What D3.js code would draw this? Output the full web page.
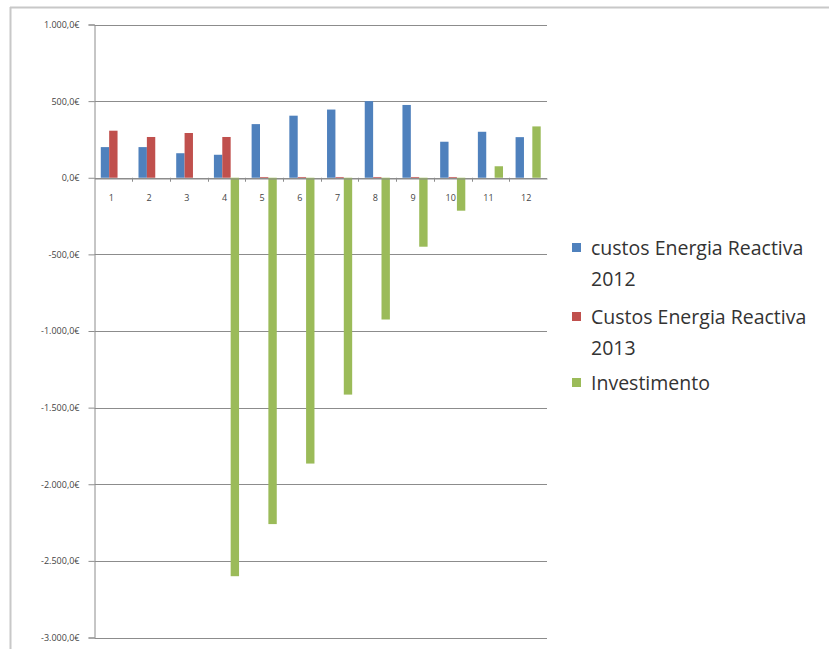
<!DOCTYPE html>
<meta charset="utf-8">
<style>
    body { margin: 0; background: #fff; }
    .tick text { font-family: "Open Sans", sans-serif; font-size: 9px; fill: #444; }
    .legend text { font-family: "Open Sans", sans-serif; font-size: 19.5px; fill: #333; }
</style>
<script src="https://d3js.org/d3.v7.min.js"></script>
<body>
<script>

    // data
    var months = ["1", "2", "3", "4", "5", "6", "7", "8", "9", "10", "11", "12"]
    var custos2012 = [200, 200, 160, 150, 350, 405, 445, 500, 475, 235, 300, 265]
    var custos2013 = [307, 266, 292, 266, 5, 5, 5, 5, 5, 5, 0, 0]
    var investimento = [0, 0, 0, -2600, -2260, -1865, -1415, -925, -450, -215, 75, 335]
    var seriesNames = ["custos Energia Reactiva 2012", "Custos Energia Reactiva 2013", "Investimento"]
    var colors = ["#4f81bd", "#c0504d", "#9bbb59"]
    var yTicks = [1000, 500, 0, -500, -1000, -1500, -2000, -2500, -3000]

    var width = 829
    height = 649

    var svg = d3.select("body")
        .append("svg")
        .attr("width", width)
        .attr("height", height)

    // chart frame (only top and left visible)
    svg.append("line")
        .attr("x1", 10).attr("x2", width).attr("y1", 7.5).attr("y2", 7.5)
        .attr("stroke", "#c8c8c8").attr("stroke-width", 2)
    svg.append("line")
        .attr("x1", 10.5).attr("x2", 10.5).attr("y1", 7).attr("y2", height)
        .attr("stroke", "#c8c8c8").attr("stroke-width", 2)

    var x0 = d3.scaleBand()
        .domain(months)
        .range([94.5, 547])
        .paddingInner(0)

    var x1 = d3.scaleBand()
        .domain([0, 1, 2])
        .range([0, x0.bandwidth()])
        .paddingInner(0)
        .paddingOuter(0.75)

    var y = d3.scaleLinear()
        .domain([-3000, 1000])
        .range([637.5, 24.5])

    var fmt = function (v) {
        var s = d3.format(",.1f")(v).replace(/,/g, "#").replace(".", ",").replace(/#/g, ".")
        return s.replace("−", "-") + "€"
    }

    // gridlines
    svg.append("g")
        .selectAll("line")
        .data(yTicks)
        .join("line")
        .attr("x1", 94.5)
        .attr("x2", 547)
        .attr("y1", function (d) { return Math.round(y(d)) + 0.5 })
        .attr("y2", function (d) { return Math.round(y(d)) + 0.5 })
        .attr("stroke", "#8c8c8c")
        .attr("stroke-width", 1)

    // y axis
    var yAxis = svg.append("g")
        .attr("transform", "translate(94.5,0)")
        .call(d3.axisLeft(y).tickValues(yTicks).tickFormat(fmt).tickSize(6).tickPadding(9))
    yAxis.select(".domain").attr("stroke", "#8c8c8c")
    yAxis.selectAll(".tick line").attr("stroke", "#8c8c8c")

    // bars
    var series = [custos2012, custos2013, investimento]
    series.forEach(function (vals, si) {
        svg.append("g")
            .selectAll("rect")
            .data(vals)
            .join("rect")
            .attr("x", function (d, i) { return x0(months[i]) + x1(si) })
            .attr("width", x1.bandwidth())
            .attr("y", function (d) { return y(Math.max(0, d)) })
            .attr("height", function (d) { return Math.abs(y(d) - y(0)) })
            .attr("fill", colors[si])
    })

    // x axis at zero
    var xAxis = svg.append("g")
        .attr("transform", "translate(0," + (Math.round(y(0)) + 0.5) + ")")
        .call(d3.axisBottom(x0).tickSize(0).tickPadding(16))
    xAxis.select(".domain").attr("stroke", "#8c8c8c")
    xAxis.selectAll(".tick text").attr("dx", "-2")

    // small ticks at category boundaries
    svg.append("g")
        .selectAll("line")
        .data(months.slice(1))
        .join("line")
        .attr("x1", function (d) { return Math.round(x0(d)) + 0.5 })
        .attr("x2", function (d) { return Math.round(x0(d)) + 0.5 })
        .attr("y1", y(0))
        .attr("y2", y(0) + 4)
        .attr("stroke", "#8c8c8c")

    // legend
    var legendLines = [
        ["custos Energia Reactiva", "2012"],
        ["Custos Energia Reactiva", "2013"],
        ["Investimento"]
    ]
    var legendY = [255, 324, 390]
    var legend = svg.append("g").attr("class", "legend")
    legendLines.forEach(function (lines, i) {
        legend.append("rect")
            .attr("x", 572)
            .attr("y", legendY[i] - 12)
            .attr("width", 9)
            .attr("height", 9)
            .attr("fill", colors[i])
        lines.forEach(function (t, j) {
            legend.append("text")
                .text(t)
                .attr("x", 591)
                .attr("y", legendY[i] + j * 31)
        })
    })

</script>
</body>
